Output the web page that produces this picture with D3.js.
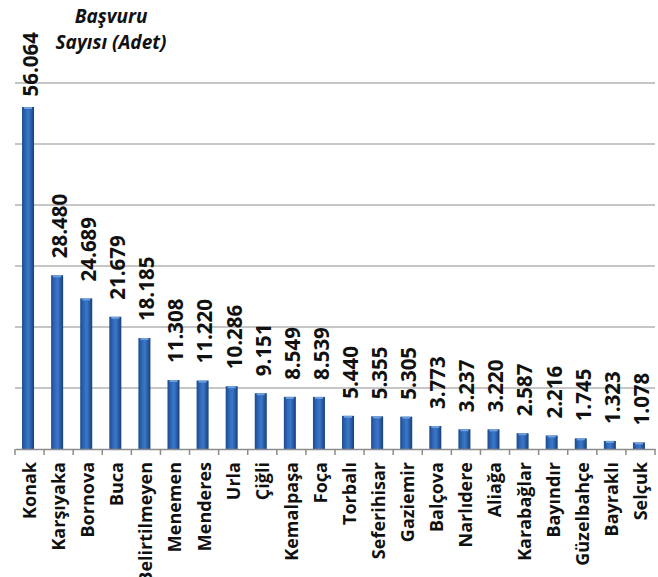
<!DOCTYPE html>
<html><head><meta charset="utf-8">
<script src="https://cdn.jsdelivr.net/npm/d3@7"></script>
<style>body{margin:0;background:#fff;}svg{display:block;}</style>
</head><body>
<script>
const categories = ["Konak","Karşıyaka","Bornova","Buca","Belirtilmeyen","Menemen","Menderes","Urla","Çiğli","Kemalpaşa","Foça","Torbalı","Seferihisar","Gaziemir","Balçova","Narlıdere","Aliağa","Karabağlar","Bayındır","Güzelbahçe","Bayraklı","Selçuk"];
const values = [56064,28480,24689,21679,18185,11308,11220,10286,9151,8549,8539,5440,5355,5305,3773,3237,3220,2587,2216,1745,1323,1078];
const yTicks = [10000,20000,30000,40000,50000,60000];
const titleLines = ["Başvuru","Sayısı (Adet)"];

const W=658,H=577;
const svg=d3.select("body").append("svg").attr("width",W).attr("height",H);
const font="'Open Sans', 'Noto Sans', sans-serif";

const x=d3.scaleBand().domain(categories).range([15,655]).padding(0);
const y=d3.scaleLinear().domain([0,60000]).range([449,83]);

const defs=svg.append("defs");
const g=defs.append("linearGradient").attr("id","barg").attr("x1","0").attr("x2","1").attr("y1","0").attr("y2","0");
g.append("stop").attr("offset","0%").attr("stop-color","#1b4a8e");
g.append("stop").attr("offset","30%").attr("stop-color","#2f68b8");
g.append("stop").attr("offset","55%").attr("stop-color","#3b77c8");
g.append("stop").attr("offset","100%").attr("stop-color","#173f7c");

// gridlines
svg.append("g").selectAll("line").data(yTicks).join("line")
  .attr("x1",15).attr("x2",655).attr("y1",d=>y(d)).attr("y2",d=>y(d))
  .attr("stroke","#b3b3b3").attr("stroke-width",1.5);

// bars
const bw=12;
svg.append("g").selectAll("rect").data(values).join("rect")
  .attr("x",(d,i)=>x(categories[i])+x.bandwidth()/2-1.5-bw/2)
  .attr("width",bw)
  .attr("y",d=>y(d)).attr("height",d=>y(0)-y(d))
  .attr("fill","url(#barg)");
svg.append("g").selectAll("rect").data(values).join("rect")
  .attr("x",(d,i)=>x(categories[i])+x.bandwidth()/2-1.5-bw/2+2)
  .attr("width",bw-4)
  .attr("y",d=>y(d)).attr("height",2)
  .attr("fill","#6f9fdc");

// x axis
const xa=svg.append("g").attr("transform",`translate(0,${y(0)})`)
  .call(d3.axisBottom(x).tickSize(0).tickFormat(""));
xa.select(".domain").attr("stroke","#8c8c8c").attr("stroke-width",1.5);
const tickPos=categories.map(c=>x(c)).concat([655]);
svg.append("g").selectAll("line").data(tickPos).join("line")
  .attr("x1",d=>d).attr("x2",d=>d).attr("y1",y(0)).attr("y2",y(0)+6)
  .attr("stroke","#8c8c8c").attr("stroke-width",1.5);

// category labels
svg.append("g").selectAll("text").data(categories).join("text")
  .attr("transform",d=>`translate(${x(d)+x.bandwidth()/2},462) rotate(-90)`)
  .attr("dy","0.36em").attr("text-anchor","end")
  .attr("font-family",font).attr("font-weight","bold").attr("font-size","18px")
  .attr("fill","#111").text(d=>d);

// value labels
const fmt=v=>d3.format(",")(v).replace(/,/g,".");
const lbl=svg.append("g").selectAll("text").data(values).join("text")
  .attr("text-anchor","start").attr("dy","0.36em")
  .attr("font-family",font).attr("font-weight","bold").attr("font-size","20.5px")
  .attr("fill","#111").text(d=>fmt(d));
lbl.each(function(d,i){
  const len=this.getComputedTextLength();
  const yy=Math.max(y(d)-17, 32+len);
  d3.select(this).attr("transform",`translate(${x(categories[i])+x.bandwidth()/2+1},${yy}) rotate(-90)`);
});

// title
svg.append("text").attr("x",111).attr("y",0)
  .attr("font-family",font).attr("font-weight","bold").attr("font-style","italic")
  .attr("font-size","19px").attr("text-anchor","middle").attr("fill","#111")
  .selectAll("tspan").data(titleLines).join("tspan")
  .attr("x",111).attr("y",(d,i)=>23+i*26).text(d=>d);
</script>
</body></html>
